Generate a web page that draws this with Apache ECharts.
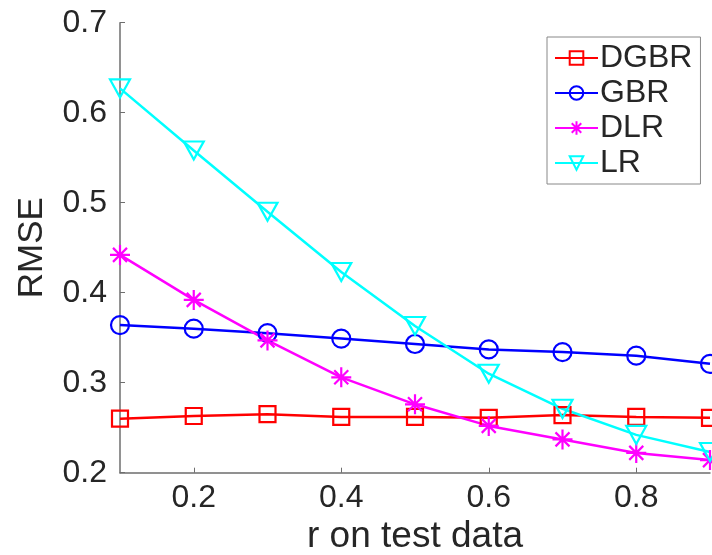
<!DOCTYPE html>
<html><head><meta charset="utf-8">
<script src="https://cdn.jsdelivr.net/npm/echarts@6/dist/echarts.min.js"></script>
<style>html,body{margin:0;padding:0;background:#fff}#c{width:712px;height:555px}</style>
</head><body><div id="c"></div>
<script>
var xValues = [0.1, 0.2, 0.3, 0.4, 0.5, 0.6, 0.7, 0.8, 0.9];
var dgbr = [0.260, 0.263, 0.265, 0.262, 0.262, 0.261, 0.264, 0.262, 0.261];
var gbr  = [0.364, 0.360, 0.355, 0.349, 0.343, 0.337, 0.334, 0.330, 0.321];
var dlr  = [0.442, 0.392, 0.347, 0.306, 0.276, 0.252, 0.237, 0.222, 0.214];
var lr   = [0.627, 0.558, 0.490, 0.423, 0.363, 0.310, 0.271, 0.242, 0.223];
var xTicks = [0.2, 0.4, 0.6, 0.8];

function pairs(ys){ return xValues.map(function(x,i){ return [x, ys[i]]; }); }
var FONT = 'Liberation Sans, Arial, Helvetica, sans-serif';
var TXT = '#262626';
var AX = '#6e6e6e';

function mk(name, ys, color, symbol, size){
  return {
    name: name, type: 'line', data: pairs(ys),
    symbol: symbol, symbolSize: size, showAllSymbol: true,
    lineStyle: {color: color, width: 2.5},
    itemStyle: {color: 'transparent', borderColor: color, borderWidth: 2.2},
    emphasis: {disabled: true},
    clip: false, z: 3
  };
}

var chart = echarts.init(document.getElementById('c'));
chart.setOption({
  animation: false,
  backgroundColor: '#fff',
  grid: {left: 120, top: 22.7, right: 2, bottom: 82.3, containLabel: false, outerBoundsMode: 'none'},
  xAxis: {
    type: 'value', min: 0.1, max: 0.9,
    name: 'r on test data', nameLocation: 'middle', nameGap: 46,
    nameTextStyle: {fontSize: 37, color: TXT, fontFamily: FONT},
    axisLine: {show: true, lineStyle: {color: AX, width: 1.5}},
    axisTick: {show: true, inside: true, length: 5, customValues: xTicks, lineStyle: {color: AX}},
    axisLabel: {customValues: xTicks, fontSize: 32, color: TXT, fontFamily: FONT, margin: 9,
      formatter: function(v){ return v.toFixed(1); }},
    splitLine: {show: false}
  },
  yAxis: {
    type: 'value', min: 0.2, max: 0.7, interval: 0.1,
    name: 'RMSE', nameLocation: 'middle', nameGap: 70,
    nameTextStyle: {fontSize: 35, color: TXT, fontFamily: FONT},
    axisLine: {show: true, lineStyle: {color: AX, width: 1.5}},
    axisTick: {show: true, inside: true, length: 5, lineStyle: {color: AX}},
    axisLabel: {fontSize: 32, color: TXT, fontFamily: FONT, margin: 13,
      formatter: function(v){ return v.toFixed(1); }},
    splitLine: {show: false}
  },
  legend: {
    orient: 'vertical', left: 547, top: 37,
    padding: [5, 8, 5, 7],
    itemWidth: 43, itemHeight: 17, itemGap: 3,
    borderColor: '#888', borderWidth: 1, backgroundColor: '#fff',
    textStyle: {fontSize: 32, color: TXT, fontFamily: FONT, padding: [0,0,0,-3]},
    data: ['DGBR', 'GBR', 'DLR', 'LR']
  },
  series: [
    mk('DGBR', dgbr, '#ff0000', 'rect', 16),
    mk('GBR', gbr, '#0000ff', 'circle', 18),
    mk('DLR', dlr, '#ff00ff', 'path://M5 0 L5 10 M0 5 L10 5 M1.5 1.5 L8.5 8.5 M1.5 8.5 L8.5 1.5', 20),
    mk('LR', lr, '#00ffff', 'path://M0 0 L10 0 L5 9 Z', [20, 18])
  ]
});
</script></body></html>
